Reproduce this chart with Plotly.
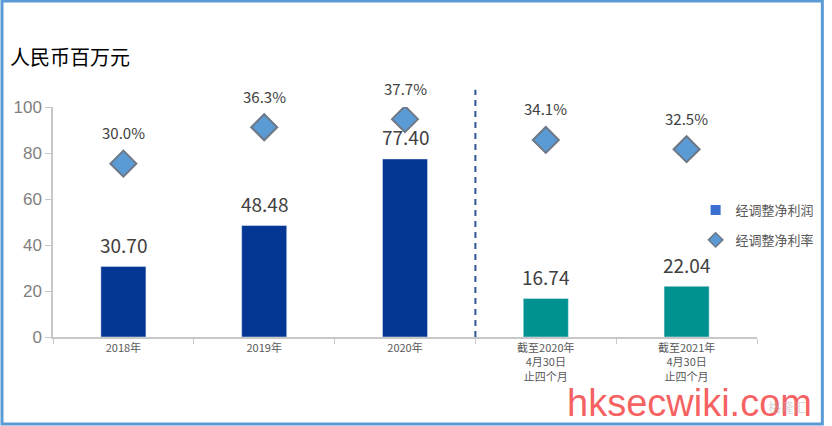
import plotly.graph_objects as go

categories = ["2018年", "2019年", "2020年",
              "截至2020年<br>4月30日<br>止四个月", "截至2021年<br>4月30日<br>止四个月"]
adj_profit = [30.70, 48.48, 77.40, 16.74, 22.04]
adj_margin = [0.300, 0.363, 0.377, 0.341, 0.325]
bar_colors = ["#043793", "#043793", "#043793", "#009191", "#009191"]

W, H = 832, 426
ml, mr, mt, mb = 53, 68, 107, 89
pw, ph = W - ml - mr, H - mt - mb

fig = go.Figure()

fig.add_trace(go.Bar(x=categories, y=adj_profit, marker_color=bar_colors,
                     width=0.32, showlegend=False, hoverinfo="skip"))
fig.add_trace(go.Scatter(x=categories, y=adj_margin, yaxis="y2", mode="markers",
                         marker=dict(symbol="diamond", size=20, color="#5b9bd5",
                                     line=dict(color="#6d7886", width=2)),
                         showlegend=False, hoverinfo="skip"))

# legend-only traces
fig.add_trace(go.Scatter(x=[None], y=[None], mode="markers", name="经调整净利润",
                         marker=dict(symbol="square", size=10, color="#3b6fcf"),
                         legendgroup="a"))
fig.add_trace(go.Scatter(x=[None], y=[None], mode="markers", name="经调整净利率",
                         marker=dict(symbol="diamond", size=11, color="#5b9bd5",
                                     line=dict(color="#6d7886", width=1.5)),
                         legendgroup="b"))

# value labels
for c, v in zip(categories, adj_profit):
    fig.add_annotation(x=c, y=v, yref="y", text=f"{v:.2f}", showarrow=False,
                       yshift=22, font=dict(size=19, color="#404040"))
for c, v in zip(categories, adj_margin):
    fig.add_annotation(x=c, y=v, yref="y2", text=f"{v * 100:.1f}%", showarrow=False,
                       yshift=31, font=dict(size=15, color="#404040"))

# unit title
fig.add_annotation(x=-45 / pw, y=1 + 50 / ph, xref="paper", yref="paper",
                   text="人民币百万元", showarrow=False, xanchor="left", yanchor="middle",
                   font=dict(size=20, color="#000000"))

# separator between full years and four-month periods
fig.add_shape(type="line", xref="x", yref="paper", x0=2.5, x1=2.5, y0=0, y1=1.075,
              line=dict(color="#2f5597", width=2, dash="6px,5px"))

# outer frame
fig.add_shape(type="rect", xref="paper", yref="paper",
              x0=-(ml - 1.5) / pw, x1=1 + (mr - 2) / pw,
              y0=-(mb - 2) / ph, y1=1 + (mt - 1) / ph,
              line=dict(color="#5b9bd5", width=3))

# watermark
fig.add_annotation(x=(696 - ml) / pw, y=-(403 - mt - ph) / ph,
                   xref="paper", yref="paper", text="hksecwiki.com", showarrow=False,
                   xanchor="center", yanchor="middle",
                   font=dict(family="Liberation Sans, Arial", size=38, color="rgba(245,70,70,0.85)"))
fig.add_annotation(x=(795 - ml) / pw, y=-(406 - mt - ph) / ph,
                   xref="paper", yref="paper", text="格隆汇", showarrow=False,
                   xanchor="center", yanchor="middle",
                   font=dict(size=13, color="rgba(180,180,180,0.5)"))

fig.update_layout(
    width=W, height=H,
    margin=dict(l=ml, r=mr, t=mt, b=mb),
    paper_bgcolor="white", plot_bgcolor="white",
    font=dict(family="Noto Sans CJK SC, Noto Sans", color="#595959"),
    xaxis=dict(type="category", showline=True, linecolor="#c8c8c8", linewidth=1.5,
               ticks="outside", tickson="boundaries", ticklen=5, tickcolor="#c8c8c8",
               tickfont=dict(size=11, color="#595959"), showgrid=False),
    yaxis=dict(range=[0, 100], dtick=20, showline=True, linecolor="#c8c8c8", linewidth=1.5,
               ticks="outside", ticklen=6, tickcolor="#c8c8c8", showgrid=False,
               zeroline=False, tickfont=dict(size=17, color="#7f7f7f",
                                             family="Liberation Sans, Arial")),
    yaxis2=dict(range=[0, 0.398], overlaying="y", visible=False),
    legend=dict(x=(702 - ml) / pw, y=(337 - 195) / ph, xanchor="left", yanchor="top",
                traceorder="grouped", tracegroupgap=10, bgcolor="rgba(0,0,0,0)",
                font=dict(size=13, color="#595959")),
)

fig.write_html("out.html", config={"displayModeBar": False},
               post_script="document.body.style.margin='0';"
                           "document.body.style.overflow='hidden';"
                           "document.documentElement.style.overflow='hidden';")
